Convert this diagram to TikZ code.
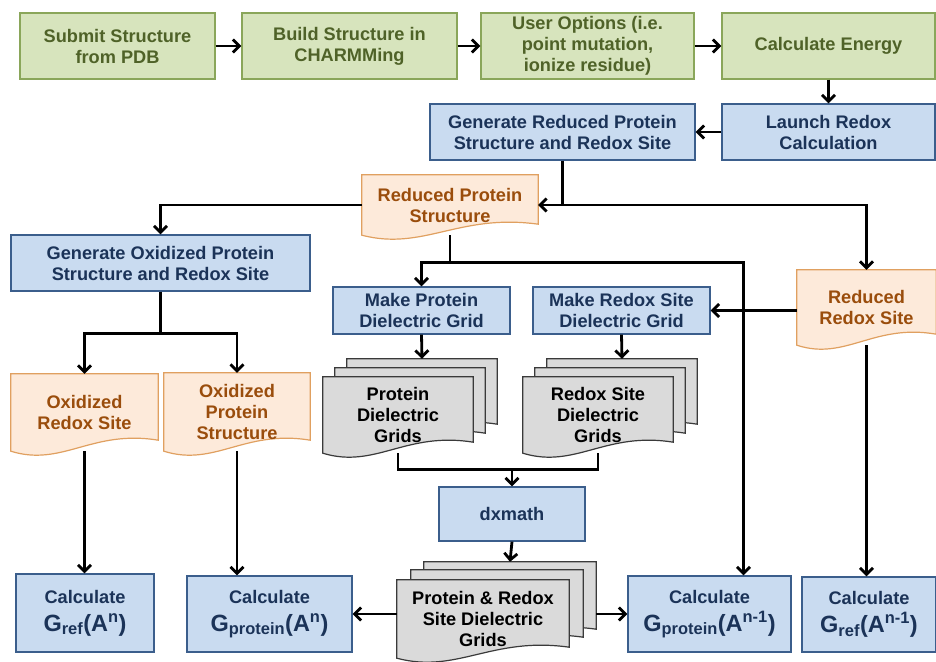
\documentclass[tikz,border=0pt]{standalone}
\usepackage{fontspec}
\setmainfont{Liberation Sans}
\usetikzlibrary{calc,arrows.meta,positioning}
\pgfdeclarelayer{background}
\pgfsetlayers{background,main}

\definecolor{greenfill}{HTML}{D7E4BD}
\definecolor{greenline}{HTML}{8AA65A}
\definecolor{greentext}{HTML}{4F6228}
\definecolor{bluefill}{HTML}{C9DBF0}
\definecolor{blueline}{HTML}{3B5E8C}
\definecolor{bluetext}{HTML}{1B3358}
\definecolor{orangefill}{HTML}{FDEADA}
\definecolor{orangeline}{HTML}{E0A060}
\definecolor{orangetext}{HTML}{9A4D0C}
\definecolor{grayfill}{HTML}{DADADA}
\definecolor{grayline}{HTML}{3A3A3A}

% sheet with a wavy bottom edge behind node #1, moved by (#2,#3)
\newcommand{\docsheet}[4]{%
  \path[#4] ($(#1.north west)+(#2,#3)$) -- ($(#1.north east)+(#2,#3)$)
    -- ($(#1.south east)+(#2,#3-11)$)
    .. controls ($(#1.south west)!0.55!(#1.south east)+(#2,#3-22)$)
    and ($(#1.south west)!0.35!(#1.south east)+(#2,#3+16)$)
    .. ($(#1.south west)+(#2,#3)$) -- cycle;}
% free energy term
\newcommand{\gterm}[2]{{\fontsize{23.5}{26}\selectfont G\textsubscript{#1}(A\textsuperscript{#2})}}

\begin{document}
\begin{tikzpicture}[x=1pt,y=-1pt,
    txt/.style={align=center, font=\bfseries\fontsize{18.2}{21}\selectfont, inner sep=1pt},
    box/.style={txt, draw, line width=1.2pt},
    greenbox/.style={box, fill=greenfill, draw=greenline, text=greentext},
    bluebox/.style={box, fill=bluefill, draw=blueline, text=bluetext},
    orangedoc/.style={txt, text=orangetext},
    graydoc/.style={txt, text=black},
    orangesheet/.style={fill=orangefill, draw=orangeline, line width=1.2pt},
    graysheet/.style={fill=grayfill, draw=grayline, line width=1.2pt},
    line/.style={line width=2.8pt},
    arr/.style={line width=2.8pt, -{Straight Barb[length=6.5pt,width=13pt]}}]
    \useasboundingbox (0,0) rectangle (936,661);
    % Setup
    \node[greenbox, minimum width=195pt, minimum height=66pt] (submit) at (117.5,46) {Submit Structure\\from PDB};
    \node[greenbox, minimum width=215pt, minimum height=66pt] (build) at (349.5,46) {Build Structure in\\CHARMMing};
    \node[greenbox, minimum width=213pt, minimum height=66pt] (options) at (587.5,46) {User Options (i.e.\\point mutation,\\ionize residue)};
    \node[greenbox, minimum width=213pt, minimum height=66pt] (energy) at (828.5,46) {Calculate Energy};
    % Redox
    \node[bluebox, minimum width=265pt, minimum height=56pt] (genred) at (562.5,132) {Generate Reduced Protein\\Structure and Redox Site};
    \node[bluebox, minimum width=213pt, minimum height=56pt] (launch) at (828.5,132) {Launch Redox\\Calculation};
    \node[orangedoc, minimum width=176pt, minimum height=60pt] (redprot) at (450,205) {Reduced Protein\\Structure};
    \node[bluebox, minimum width=299pt, minimum height=56pt] (genox) at (160.5,263) {Generate Oxidized Protein\\Structure and Redox Site};
    \node[bluebox, minimum width=177pt, minimum height=47pt] (mkprot) at (421.5,310.5) {Make Protein\\Dielectric Grid};
    \node[bluebox, minimum width=177pt, minimum height=47pt] (mkredox) at (621.5,310.5) {Make Redox Site\\Dielectric Grid};
    \node[orangedoc, minimum width=139pt, minimum height=75pt] (redsite) at (866.5,307.5) {Reduced\\Redox Site};
    \node[orangedoc, minimum width=147pt, minimum height=77pt] (oxsite) at (84.5,412.5) {Oxidized\\Redox Site};
    \node[orangedoc, minimum width=146pt, minimum height=78pt] (oxprot) at (237,412) {Oxidized\\Protein\\Structure};
    % Grids
    \node[graydoc, minimum width=150pt, minimum height=76pt] (protgrid) at (398,415) {Protein\\Dielectric\\Grids};
    \node[graydoc, minimum width=150pt, minimum height=76pt] (sitegrid) at (598,415) {Redox Site\\Dielectric\\Grids};
    \node[bluebox, minimum width=146pt, minimum height=54pt] (dxmath) at (512,514) {dxmath};
    \node[graydoc, minimum width=172pt, minimum height=78pt] (allgrid) at (483,619) {Protein \& Redox\\Site Dielectric\\Grids};
    % Energies
    \node[bluebox, minimum width=138pt, minimum height=78pt] (grefn) at (85,613) {Calculate\\[7pt]\gterm{ref}{n}};
    \node[bluebox, minimum width=165pt, minimum height=76pt] (gprotn) at (269.5,614) {Calculate\\[7pt]\gterm{protein}{n}};
    \node[bluebox, minimum width=163pt, minimum height=76pt] (gprotm) at (709.5,614) {Calculate\\[7pt]\gterm{protein}{n-1}};
    \node[bluebox, minimum width=134pt, minimum height=75pt] (grefm) at (869,614.5) {Calculate\\[7pt]\gterm{ref}{n-1}};
    % Sheets
    \begin{pgfonlayer}{background}
        \foreach \n in {redprot,redsite,oxsite,oxprot}
            \docsheet{\n}{0}{0}{orangesheet};
        \foreach \n in {protgrid,sitegrid}{
            \docsheet{\n}{24}{-18}{graysheet}
            \docsheet{\n}{12}{-9}{graysheet}
            \docsheet{\n}{0}{0}{graysheet}
        }
        \docsheet{allgrid}{27}{-18}{graysheet}
        \docsheet{allgrid}{14}{-10}{graysheet}
        \docsheet{allgrid}{0}{0}{graysheet}
    \end{pgfonlayer}
    \coordinate (protgrid-top) at ($(protgrid.north)+(24,-18)$);
    \coordinate (sitegrid-top) at ($(sitegrid.north)+(24,-18)$);
    \coordinate (allgrid-top) at ($(allgrid.north)+(27,-18)$);
    \coordinate (allgrid-right) at ($(allgrid.east)+(27,0)$);
    % Arrows
    \draw[arr] (submit) -- (build);
    \draw[arr] (build) -- (options);
    \draw[arr] (options) -- (energy);
    \draw[arr] (energy) -- (launch);
    \draw[arr] (launch) -- (genred);
    \draw[arr] (genred.south) |- (redprot.east);
    \coordinate (split) at (genred.south |- redprot.east);
    \draw[arr] (split) -| (redsite.north);
    \draw[arr] (redprot.west) -| (genox.north);
    \coordinate (fork) at ($(redprot.south)+(0,27)$);
    \draw[line] (redprot.south) -- (fork);
    \draw[arr] (fork) -| (mkprot.north);
    \draw[arr] (fork) -| ($(gprotm.north)+(34,0)$);
    \draw[arr] (mkredox.east -| redsite.west) -- (mkredox.east);
    \draw[arr] (redsite.south) -- (redsite.south |- grefm.north);
    \coordinate (oxfork) at ($(genox.south)+(0,42)$);
    \draw[line] (genox.south) -- (oxfork);
    \draw[arr] (oxfork) -| (oxsite.north);
    \draw[arr] (oxfork) -| (oxprot.north);
    \draw[arr] (oxsite.south) -- (oxsite.south |- grefn.north);
    \draw[arr] (oxprot.south) -- (oxprot.south |- gprotn.north);
    \draw[arr] (mkprot.south) -- (protgrid-top);
    \draw[arr] (mkredox.south) -- (sitegrid-top);
    \coordinate (merge) at ($(protgrid.south)+(0,16)$);
    \draw[line] (protgrid.south) -- (merge) -| (sitegrid.south);
    \draw[arr] (dxmath.north |- merge) -- (dxmath.north);
    \draw[arr] (dxmath.south) -- (allgrid-top);
    \draw[arr] (gprotn.east -| allgrid.west) -- (gprotn.east);
    \draw[arr] (gprotm.west -| allgrid-right) -- (gprotm.west);
\end{tikzpicture}
\end{document}
